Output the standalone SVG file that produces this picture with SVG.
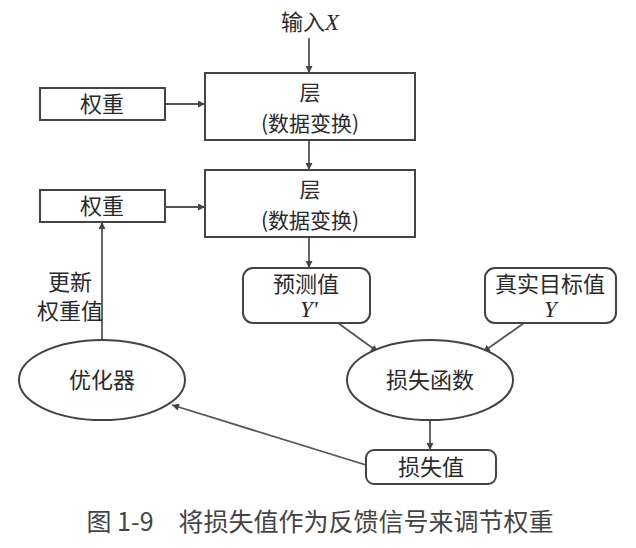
<svg xmlns="http://www.w3.org/2000/svg" width="636" height="548" viewBox="0 0 636 548">
<defs>
<style>
.box{fill:#fff;stroke:#444;stroke-width:2}
.t{font-family:"Noto Sans CJK SC","Noto Sans",sans-serif;font-size:22px;fill:#2a2a2a;text-anchor:middle}
.s{font-size:21px}
.i{font-family:"Liberation Serif",serif;font-style:italic;font-size:23px;fill:#2a2a2a}
.c{stroke:#555;stroke-width:1.8;fill:none;marker-end:url(#ah)}
</style>
<marker id="ah" viewBox="0 0 10 10" refX="10" refY="5" markerWidth="9" markerHeight="7" markerUnits="userSpaceOnUse" orient="auto">
<path d="M0,0 L10,5 L0,10 z" fill="#444"/>
</marker>
</defs>
<rect width="636" height="548" fill="#fff"/>
<g id="connectors">
<line class="c" x1="309" y1="38" x2="309" y2="73"/>
<line class="c" x1="165" y1="104" x2="205" y2="104"/>
<line class="c" x1="309" y1="140" x2="309" y2="170"/>
<line class="c" x1="165" y1="207" x2="205" y2="207"/>
<line class="c" x1="309" y1="237" x2="309" y2="268"/>
<line class="c" x1="338" y1="323" x2="378" y2="352"/>
<line class="c" x1="524" y1="323" x2="483" y2="352"/>
<line class="c" x1="430" y1="420" x2="430" y2="450"/>
<line class="c" x1="366" y1="465" x2="172" y2="405"/>
<line class="c" x1="102" y1="340" x2="102" y2="222"/>
</g>
<g id="input"><text x="310" y="30" class="t">输入<tspan class="i">X</tspan></text></g>
<g id="layer1"><rect class="box" x="205" y="73" width="210" height="67"/><text class="t s" x="310" y="100">层</text><text class="t s" x="310" y="131">(数据变换)</text></g>
<g id="weight1"><rect class="box" x="40" y="88" width="125" height="32"/><text class="t" x="102" y="112">权重</text></g>
<g id="layer2"><rect class="box" x="205" y="170" width="210" height="67"/><text class="t s" x="310" y="197">层</text><text class="t s" x="310" y="228">(数据变换)</text></g>
<g id="weight2"><rect class="box" x="40" y="190" width="125" height="32"/><text class="t" x="102" y="214">权重</text></g>
<g id="pred"><rect class="box" x="243" y="268" width="127" height="55" rx="10"/><text class="t" x="306" y="292">预测值</text><text class="i" x="300" y="317">Y'</text></g>
<g id="target"><rect class="box" x="485" y="268" width="131" height="55" rx="10"/><text class="t" x="550" y="292">真实目标值</text><text class="i" x="544" y="317">Y</text></g>
<g id="lossfn"><ellipse class="box" cx="430" cy="380" rx="83" ry="40"/><text class="t" x="430" y="388">损失函数</text></g>
<g id="optimizer"><ellipse class="box" cx="102" cy="380" rx="83" ry="40"/><text class="t" x="102" y="388">优化器</text></g>
<g id="lossval"><rect class="box" x="366" y="450" width="130" height="34" rx="8"/><text class="t" x="431" y="475">损失值</text></g>
<g id="update"><text class="t" x="70" y="290">更新</text><text class="t" x="70" y="319">权重值</text></g>
<text class="t" x="320" y="531" style="font-size:25px;fill:#444">图 1-9　将损失值作为反馈信号来调节权重</text>
</svg>
